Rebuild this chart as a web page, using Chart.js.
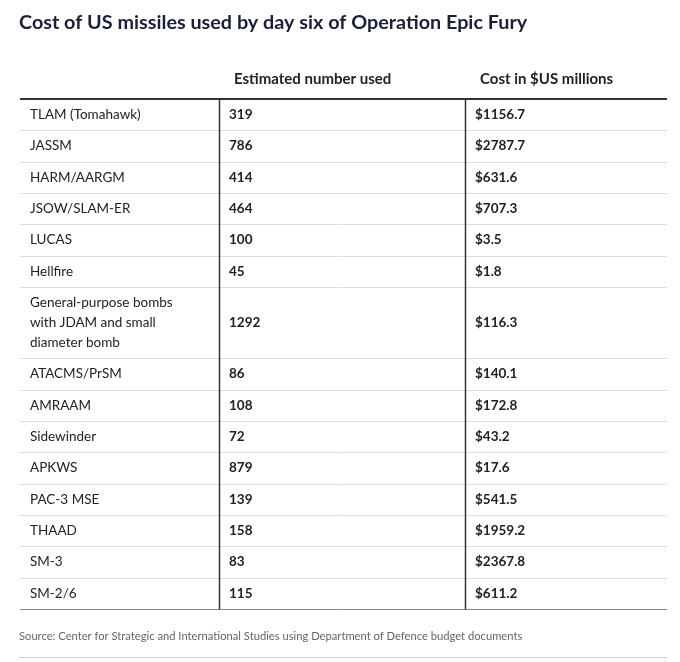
<!DOCTYPE html>
<html>
<head>
<meta charset="utf-8">
<script src="https://cdn.jsdelivr.net/npm/chart.js@4"></script>
<style>
  body { margin: 0; background: #fff; }
  #wrap { width: 680px; height: 662px; }
</style>
</head>
<body>
<div id="wrap"><canvas id="tableChart"></canvas></div>
<script>
var weapons = ["TLAM (Tomahawk)", "JASSM", "HARM/AARGM", "JSOW/SLAM-ER", "LUCAS", "Hellfire",
  "General-purpose bombs\nwith JDAM and small\ndiameter bomb",
  "ATACMS/PrSM", "AMRAAM", "Sidewinder", "APKWS", "PAC-3 MSE", "THAAD", "SM-3", "SM-2/6"];
var numberUsed = [319, 786, 414, 464, 100, 45, 1292, 86, 108, 72, 879, 139, 158, 83, 115];
var costMillions = [1156.7, 2787.7, 631.6, 707.3, 3.5, 1.8, 116.3, 140.1, 172.8, 43.2, 17.6, 541.5, 1959.2, 2367.8, 611.2];
var headers = ["", "Estimated number used", "Cost in $US millions"];

// row heights in row units (multi-line row is taller)
var rowHeights = weapons.map(function (w) { return w.indexOf("\n") >= 0 ? 2.27 : 1; });
var rowEdges = [0];
rowHeights.forEach(function (h) { rowEdges.push(rowEdges[rowEdges.length - 1] + h); });
var colEdges = [0, 199, 445, 647];

var cells = [];
weapons.forEach(function (w, i) {
  var yMid = (rowEdges[i] + rowEdges[i + 1]) / 2;
  cells.push({ x: colEdges[0], y: yMid, text: w, bold: false });
  cells.push({ x: colEdges[1], y: yMid, text: String(numberUsed[i]), bold: true });
  cells.push({ x: colEdges[2], y: yMid, text: "$" + costMillions[i].toFixed(1), bold: true });
});

var FONT = "Lato, 'Open Sans', sans-serif";

var tablePlugin = {
  id: "tablePlugin",
  afterDatasetsDraw: function (chart) {
    var ctx = chart.ctx, xs = chart.scales.x, ys = chart.scales.y;
    ctx.save();
    // title
    ctx.fillStyle = "#1b1f3b";
    ctx.font = "bold 19.8px " + FONT;
    ctx.textBaseline = "middle";
    ctx.textAlign = "left";
    ctx.fillText("Cost of US missiles used by day six of Operation Epic Fury", 19, 23);
    // headers
    ctx.font = "bold 15px " + FONT;
    ctx.fillStyle = "#222";
    headers.forEach(function (h, c) {
      ctx.fillText(h, xs.getPixelForValue(colEdges[c]) + 15, 79);
    });
    // row lines
    ctx.strokeStyle = "#dcdcdc";
    ctx.lineWidth = 1;
    for (var r = 1; r < rowEdges.length - 1; r++) {
      var py = Math.round(ys.getPixelForValue(rowEdges[r])) + 0.5;
      ctx.beginPath();
      ctx.moveTo(xs.getPixelForValue(colEdges[0]), py);
      ctx.lineTo(xs.getPixelForValue(colEdges[3]), py);
      ctx.stroke();
    }
    // bottom line
    var yb = Math.round(ys.getPixelForValue(rowEdges[rowEdges.length - 1])) + 0.5;
    ctx.strokeStyle = "#888";
    ctx.beginPath();
    ctx.moveTo(xs.getPixelForValue(colEdges[0]), yb);
    ctx.lineTo(xs.getPixelForValue(colEdges[3]), yb);
    ctx.stroke();
    // column dividers
    ctx.strokeStyle = "#333";
    ctx.lineWidth = 1.5;
    [1, 2].forEach(function (c) {
      var px = Math.round(xs.getPixelForValue(colEdges[c])) + 0.5;
      ctx.beginPath();
      ctx.moveTo(px, ys.getPixelForValue(0));
      ctx.lineTo(px, yb);
      ctx.stroke();
    });
    // header rule
    ctx.lineWidth = 2;
    ctx.strokeStyle = "#333";
    ctx.beginPath();
    ctx.moveTo(xs.getPixelForValue(colEdges[0]), ys.getPixelForValue(0));
    ctx.lineTo(xs.getPixelForValue(colEdges[3]), ys.getPixelForValue(0));
    ctx.stroke();
    // cells
    ctx.fillStyle = "#222";
    cells.forEach(function (cell) {
      ctx.font = (cell.bold ? "bold " : "") + "13.5px " + FONT;
      var lines = cell.text.split("\n");
      var cx = xs.getPixelForValue(cell.x) + 10;
      var cy = ys.getPixelForValue(cell.y) - (lines.length - 1) * 10;
      lines.forEach(function (l, k) { ctx.fillText(l, cx, cy + k * 20); });
    });
    // source
    ctx.font = "11.2px " + FONT;
    ctx.fillStyle = "#666";
    ctx.fillText("Source: Center for Strategic and International Studies using Department of Defence budget documents", 19, 636);
    ctx.strokeStyle = "#cfcfcf";
    ctx.lineWidth = 1;
    ctx.beginPath();
    ctx.moveTo(19, 657.5);
    ctx.lineTo(667, 657.5);
    ctx.stroke();
    ctx.restore();
  }
};

new Chart("tableChart", {
  type: "scatter",
  data: {
    datasets: [{
      data: cells.map(function (c) { return { x: c.x, y: c.y }; }),
      pointRadius: 0
    }]
  },
  options: {
    responsive: true,
    maintainAspectRatio: false,
    animation: false,
    layout: { padding: { left: 20, right: 13, top: 99, bottom: 53 } },
    plugins: { legend: { display: false }, tooltip: { enabled: false } },
    scales: {
      x: { display: false, min: colEdges[0], max: colEdges[3] },
      y: { display: false, reverse: true, min: 0, max: rowEdges[rowEdges.length - 1] }
    }
  },
  plugins: [tablePlugin]
});
</script>
</body>
</html>
